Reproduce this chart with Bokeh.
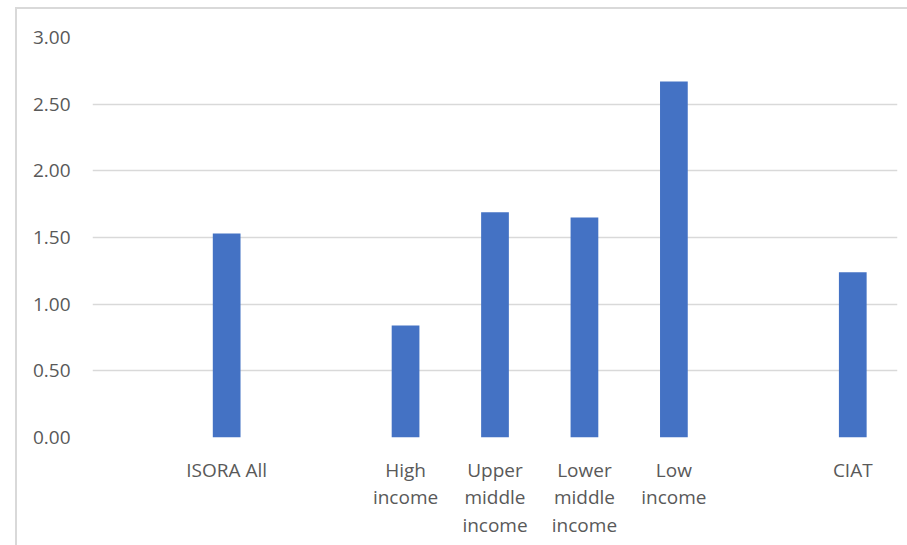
from bokeh.plotting import figure
from bokeh.models import (Range1d, FactorRange, FixedTicker, NumeralTickFormatter,
                          InlineStyleSheet)
from bokeh.embed import file_html
from bokeh.resources import INLINE

# Average score per group (labels wrapped as they appear under the bars)
categories = ["ISORA All", "High\nincome", "Upper\nmiddle\nincome",
              "Lower\nmiddle\nincome", "Low\nincome", "CIAT"]
values = [1.53, 0.84, 1.69, 1.65, 2.67, 1.24]
tick_values = [0.0, 0.5, 1.0, 1.5, 2.0, 2.5, 3.0]

# Blank slots separate the overall figure, the income groups and CIAT
slots = [" ", "ISORA All", "  ", "High\nincome", "Upper\nmiddle\nincome",
         "Lower\nmiddle\nincome", "Low\nincome", "   ", "CIAT"]

TEXT = "#595959"
GRID = "#d9d9d9"
FONT = "Open Sans"

p = figure(width=907, height=545, output_backend="svg", toolbar_location=None,
           x_range=FactorRange(factors=slots, range_padding=0),
           y_range=Range1d(0, 3),
           min_border_left=92, min_border_right=10,
           min_border_top=37, min_border_bottom=108)

p.vbar(x=categories, top=values, width=0.31, bottom=0,
       fill_color="#4472c4", line_color=None)

p.outline_line_color = None
p.background_fill_color = "white"
p.border_fill_color = "white"

p.xgrid.grid_line_color = None
p.ygrid.grid_line_color = GRID
p.ygrid.grid_line_width = 1.5

p.yaxis.ticker = FixedTicker(ticks=tick_values)
p.yaxis.formatter = NumeralTickFormatter(format="0.00")
p.yaxis.axis_line_color = None
p.yaxis.major_tick_line_color = None
p.yaxis.minor_tick_line_color = None
p.yaxis.major_tick_out = 0
p.yaxis.major_tick_in = 0
p.yaxis.major_label_standoff = 22
p.yaxis.major_label_text_font = FONT
p.yaxis.major_label_text_font_size = "19px"
p.yaxis.major_label_text_color = TEXT

p.xaxis.axis_line_color = None
p.xaxis.major_tick_line_color = None
p.xaxis.minor_tick_line_color = None
p.xaxis.major_tick_out = 0
p.xaxis.major_tick_in = 0
p.xaxis.major_label_standoff = 19
p.xaxis.major_label_text_font = FONT
p.xaxis.major_label_text_font_size = "19px"
p.xaxis.major_label_text_color = TEXT
p.xaxis.major_label_text_line_height = 1.07

# Chart-area border (left and top edges)
p.stylesheets = [InlineStyleSheet(css="""
:host::after {
  content: "";
  position: absolute;
  left: 15px; top: 7px; right: 0; bottom: 0;
  border-left: 2px solid #d9d9d9;
  border-top: 2px solid #d9d9d9;
  pointer-events: none;
  z-index: 10;
}
""")]

with open("out.html", "w") as f:
    f.write(file_html(p, INLINE))
